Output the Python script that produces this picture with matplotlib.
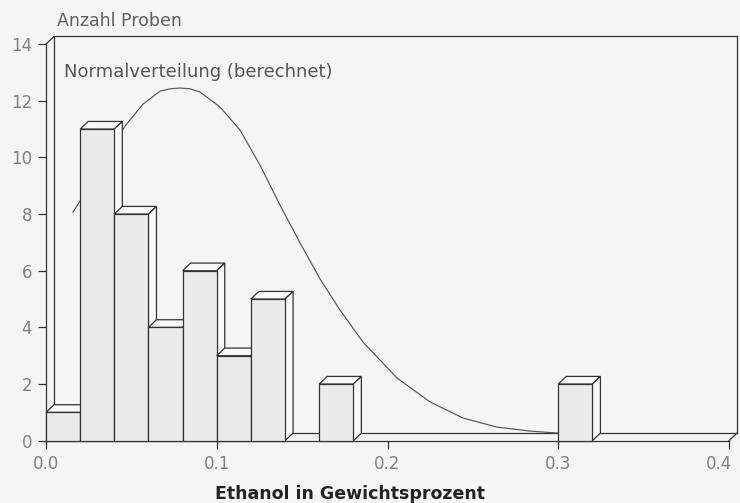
import numpy as np
import matplotlib.pyplot as plt
import matplotlib.transforms as mtransforms
from matplotlib.patches import Polygon, Rectangle

plt.rcParams['font.family'] = ['DejaVu Sans']

# histogram bins (left edge, weight %) and number of samples
bin_left = [0.00, 0.02, 0.04, 0.06, 0.08, 0.10, 0.12, 0.16, 0.30]
counts = [1, 11, 8, 4, 6, 3, 5, 2, 2]
bin_width = 0.02

# calculated normal curve
curve_x = [0.0158, 0.0211, 0.0463, 0.0568, 0.0668, 0.0726, 0.0785, 0.0843,
           0.0902, 0.1019, 0.1136, 0.1253, 0.1370, 0.1488, 0.1605, 0.1722,
           0.1857, 0.2056, 0.2249, 0.2442, 0.2641, 0.2835, 0.2993]
curve_y = [8.07, 8.57, 11.11, 11.88, 12.34, 12.42, 12.45, 12.42,
           12.31, 11.78, 10.97, 9.73, 8.32, 6.98, 5.71, 4.61,
           3.48, 2.21, 1.37, 0.80, 0.48, 0.34, 0.27]

xticks = [0.0, 0.1, 0.2, 0.3, 0.4]
xtick_labels = ['0.0', '0.1', '0.2', '0.3', '0.4']
yticks = [0, 2, 4, 6, 8, 10, 12, 14]

xmax = 0.4
ymax = 14
ddx, ddy = 0.0047, 0.27   # depth of the pseudo 3d boxes

bg = '#f5f5f5'
ink = '#333333'
grey_txt = '#808080'

fig = plt.figure(figsize=(7.4, 5.03), dpi=100, facecolor=bg)
ax = fig.add_axes([46 / 740, (503 - 440.7) / 503, 683 / 740, (440.7 - 44.1) / 503])
ax.set_facecolor('none')
ax.set_xlim(0, xmax)
ax.set_ylim(0, ymax)
for s in ['top', 'right']:
    ax.spines[s].set_visible(False)
for s in ['left', 'bottom']:
    ax.spines[s].set_color(ink)
    ax.spines[s].set_linewidth(0.9)

ax.set_xticks(xticks)
ax.set_xticklabels(xtick_labels)
ax.set_yticks(yticks)
ax.tick_params(direction='out', length=6, width=0.9, color=ink,
               labelcolor=grey_txt, labelsize=12, pad=4)

# last label sits at the right edge, nudge it in so it is not cut
last = ax.get_xticklabels()[-1]
last.set_transform(last.get_transform() +
                   mtransforms.ScaledTranslation(-10 / 100, 0, fig.dpi_scale_trans))

# back frame
lk = dict(color=ink, lw=0.9, clip_on=False, zorder=1)
ax.plot([0, ddx], [ymax, ymax + ddy], **lk)
ax.plot([ddx, ddx], [ddy, ymax + ddy], **lk)
ax.plot([ddx, xmax + ddx], [ymax + ddy, ymax + ddy], **lk)
ax.plot([xmax + ddx, xmax + ddx], [ymax + ddy, ddy], **lk)
ax.plot([ddx, xmax + ddx], [ddy, ddy], **lk)
ax.plot([xmax, xmax + ddx], [0, ddy], **lk)

# normal curve
ax.plot(curve_x, curve_y, color='#555555', lw=0.85, zorder=2, clip_on=False)

# boxes, left to right so the next front face covers the previous side
for i, (x, h) in enumerate(zip(bin_left, counts)):
    z = 3 + i * 0.1
    w = bin_width
    top = [(x, h), (x + ddx, h + ddy), (x + w + ddx, h + ddy), (x + w, h)]
    side = [(x + w, 0), (x + w + ddx, ddy), (x + w + ddx, h + ddy), (x + w, h)]
    ax.add_patch(Polygon(top, closed=True, fc='#f8f8f8', ec=ink, lw=0.9,
                         zorder=z, clip_on=False))
    ax.add_patch(Polygon(side, closed=True, fc='#f8f8f8', ec=ink, lw=0.9,
                         zorder=z, clip_on=False))
    ax.add_patch(Rectangle((x, 0), w, h, fc='#eaeaea', ec=ink, lw=0.9,
                           zorder=z + 0.01, clip_on=False))

fig.text(64 / 740, 1 - 77 / 503, 'Normalverteilung (berechnet)', fontsize=13,
         color='#555555', va='baseline', ha='left')
fig.text(57 / 740, 1 - 26 / 503, 'Anzahl Proben', fontsize=12.5,
         color='#606060', va='baseline', ha='left')
fig.text(350 / 740, 1 - 499 / 503, 'Ethanol in Gewichtsprozent', fontsize=12.5,
         fontweight='bold', color='#222222', va='baseline', ha='center')

fig.savefig('out.png', dpi=100, facecolor=bg)
